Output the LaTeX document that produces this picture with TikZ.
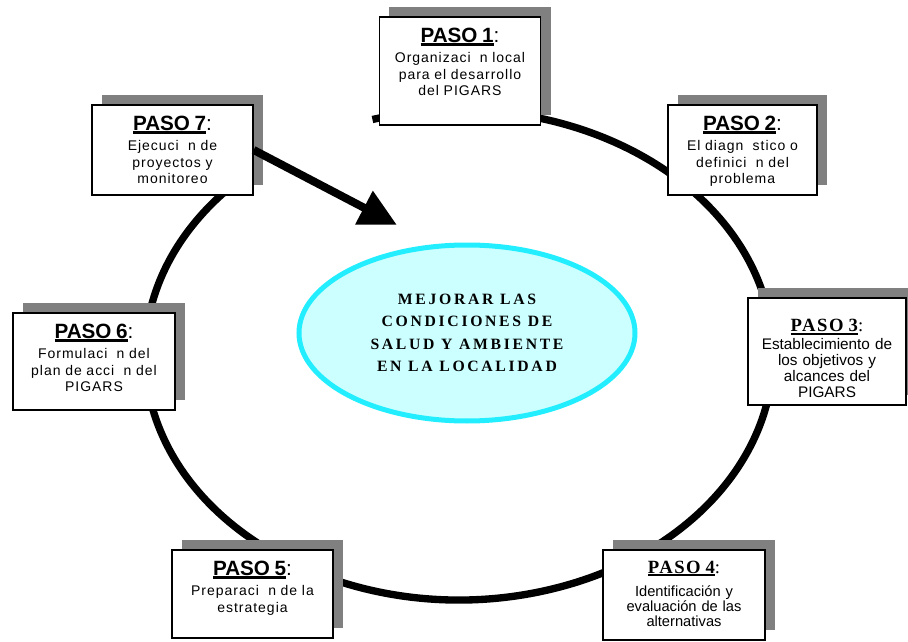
\documentclass[tikz,border=0pt]{standalone}
\usepackage{fontspec}
\setmainfont{Liberation Sans}
\newfontfamily\arialesp[LetterSpace=7]{Liberation Sans}
\newfontfamily\timesesp[LetterSpace=8]{Liberation Serif}
\newfontfamily\timesmeta[LetterSpace=17]{Liberation Serif}
\usetikzlibrary{positioning,shapes.geometric,shadows,arrows.meta}
\definecolor{celeste}{HTML}{CCFFFF}
\definecolor{cian}{HTML}{22EEFF}
\definecolor{sombra}{HTML}{808080}
\newcommand\subrayado[1]{\setbox0\hbox{#1}\rlap{\rule[-2.4pt]{\wd0}{1.7pt}}\box0}
\newcommand\paso[1]{{\normalfont\fontsize{15.5}{13}\selectfont\bfseries\subrayado{PASO #1}\mdseries:}}
\newcommand\pasot[1]{{\timesesp\fontsize{14}{13}\selectfont\bfseries\subrayado{PASO #1}\mdseries:}}
\tikzset{
  caja/.style={draw, line width=1pt, fill=white, minimum width=121pt, minimum height=67.5pt,
    drop shadow={shadow xshift=7.5pt, shadow yshift=7.5pt, fill=sombra, opacity=1}},
  texto/.style={text width=118pt, align=center, inner sep=0pt,
    font=\arialesp\fontsize{10.5}{12.5}\selectfont},
  meta/.style={ellipse, draw=cian, line width=3.75pt, fill=celeste, minimum width=252pt,
    minimum height=132pt, align=center, inner sep=0pt,
    font=\timesmeta\bfseries\fontsize{11.8}{16.9}\selectfont},
  anillo/.style={line width=5.5pt},
  flecha/.style={line width=6pt, -{Triangle[length=28pt,width=27pt]}}
}
\begin{document}
\begin{tikzpicture}[x=0.75pt,y=-0.75pt]
\useasboundingbox (0,0) rectangle (908,642);
\draw[anillo] (459,355) ++(-106:314 and 245) arc [start angle=-106, end angle=226, x radius=314, y radius=245];

\node[caja, minimum height=81pt] (p1) at (460,71) {};
\node[caja, minimum width=111.75pt] (p2) at (742.5,150) {};
\node[caja, minimum width=118.5pt, minimum height=80.25pt] (p3) at (827,351.5) {};
\node[caja, minimum width=121.5pt] (p4) at (684,595) {};
\node[caja, minimum width=120.75pt, minimum height=66pt] (p5) at (252.5,594) {};
\node[caja, minimum width=121.5pt, minimum height=72.75pt] (p6) at (94,361.5) {};
\node[caja, minimum width=120.75pt] (p7) at (172.5,150) {};

\node[texto, below=8.5pt of p1.north] (t1) {\paso{1}\\[2.5pt] Organizaci~~n local\\ para el desarrollo\\ del PIGARS};
\node[texto, below=8.5pt of p2.north] (t2) {\paso{2}\\[2.5pt] El diagn~~stico o\\ definici~~n del\\ problema};
\node[texto, below=16.5pt of p3.north, font=\fontsize{11.5}{12}\selectfont] (t3) {\pasot{3}\\[1pt] Establecimiento de\\ los objetivos y\\ alcances del\\ PIGARS};
\node[texto, below=8.5pt of p4.north, font=\fontsize{11}{11.25}\selectfont] (t4) {\pasot{4}\\[6pt] Identificación y\\ evaluación de las\\ alternativas};
\node[texto, below=8.5pt of p5.north] (t5) {\paso{5}\\[2.5pt] Preparaci~~n de la\\ estrategia};
\node[texto, below=8.5pt of p6.north] (t6) {\paso{6}\\[2.5pt] Formulaci~~n del\\ plan de acci~~n del\\ PIGARS};
\node[texto, below=8.5pt of p7.north] (t7) {\paso{7}\\[2.5pt] Ejecuci~~n de\\ proyectos y\\ monitoreo};

\node[meta] (meta) at (467,333) {MEJORAR LAS\\ CONDICIONES DE\\ SALUD Y AMBIENTE\\ EN LA LOCALIDAD};

\coordinate (punta) at (397,225);
\draw[flecha] (p7.east) -- (punta);
\end{tikzpicture}
\end{document}
